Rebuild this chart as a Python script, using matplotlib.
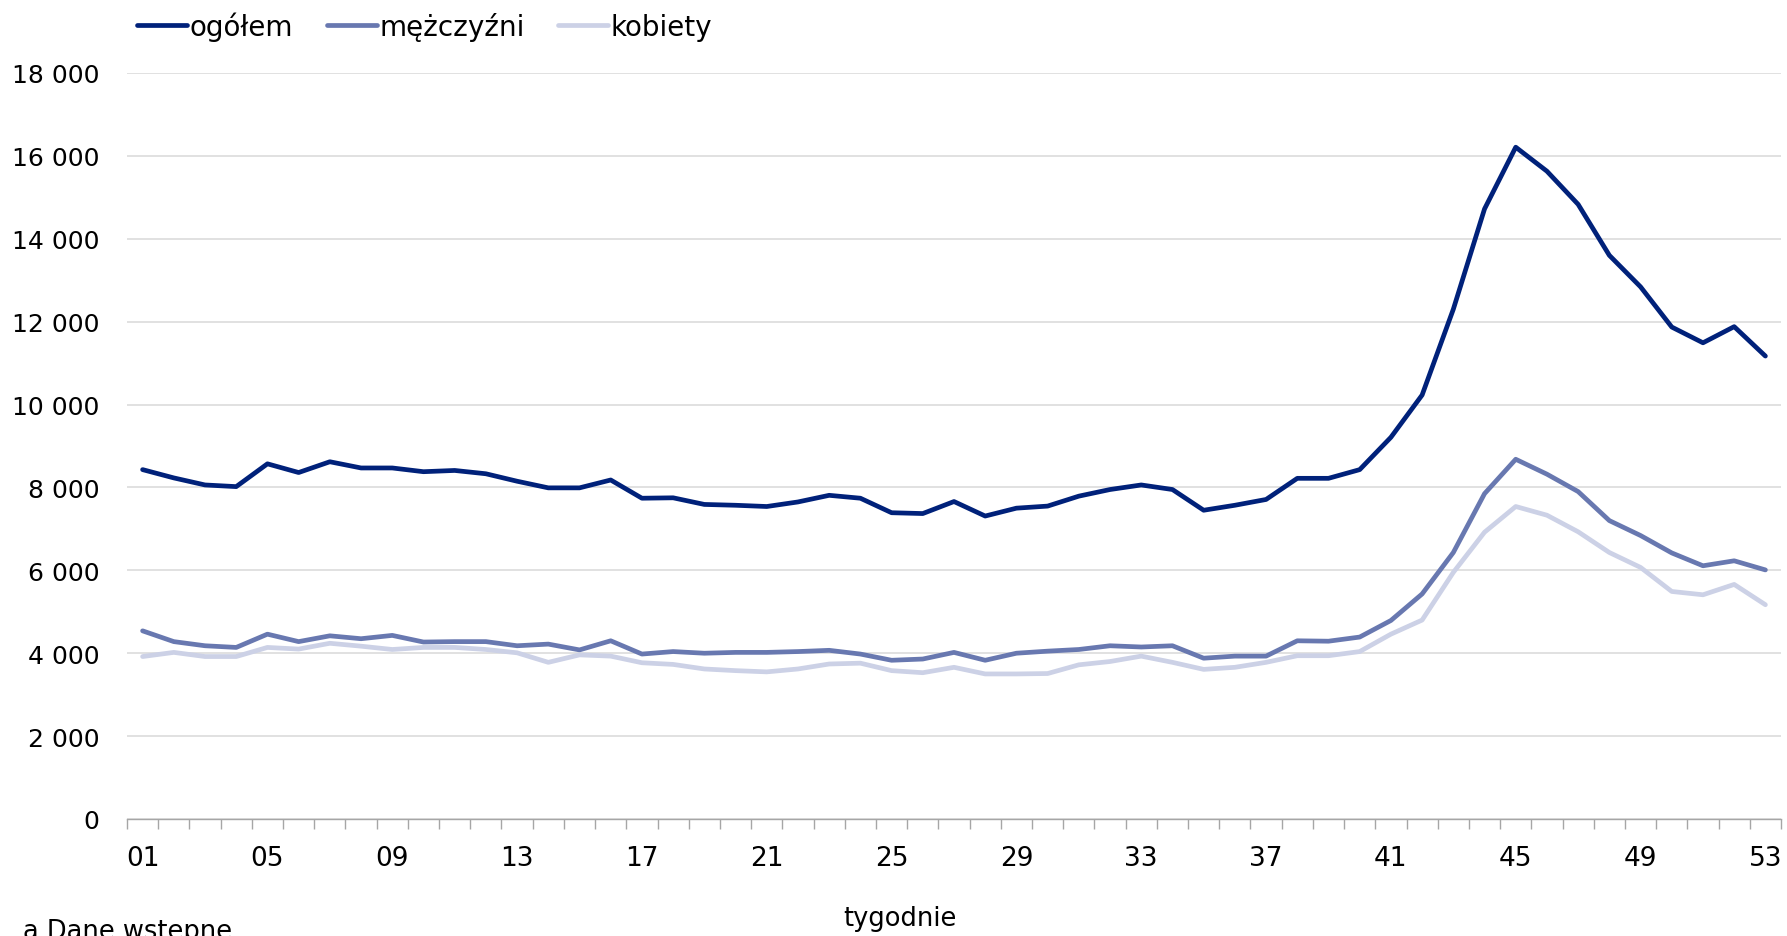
import numpy as np
import matplotlib
matplotlib.use("Agg")
import matplotlib.pyplot as plt
from matplotlib.ticker import FuncFormatter, FixedLocator

plt.rcParams['font.family'] = ['DejaVu Sans']

# ── Dane (tygodnie 01–53) ─────────────────────────────────────────────────────
tygodnie = np.arange(1, 54)
ogolem = [8430, 8230, 8060, 8020, 8570, 8360, 8620, 8470, 8470, 8380,
          8410, 8330, 8150, 7990, 7990, 8180, 7740, 7750, 7590, 7570,
          7540, 7650, 7810, 7740, 7390, 7370, 7660, 7310, 7500, 7550,
          7790, 7950, 8060, 7950, 7450, 7570, 7710, 8220, 8220, 8430,
          9210, 10230, 12300, 14720, 16210, 15630, 14830, 13600, 12840, 11870,
          11490, 11880, 11170]
mezczyzni = [4540, 4280, 4180, 4140, 4460, 4280, 4420, 4350, 4430, 4270,
             4280, 4280, 4180, 4220, 4080, 4300, 3980, 4040, 4000, 4020,
             4020, 4040, 4070, 3980, 3830, 3860, 4020, 3830, 4000, 4050,
             4090, 4180, 4150, 4180, 3880, 3930, 3930, 4300, 4290, 4390,
             4790, 5430, 6430, 7850, 8680, 8320, 7900, 7200, 6840, 6420,
             6110, 6230, 6010]
kobiety = [3920, 4020, 3920, 3920, 4140, 4100, 4240, 4170, 4090, 4140,
           4140, 4090, 4010, 3780, 3960, 3930, 3770, 3730, 3620, 3580,
           3550, 3620, 3740, 3760, 3580, 3530, 3660, 3500, 3500, 3510,
           3720, 3800, 3930, 3780, 3610, 3660, 3780, 3940, 3940, 4040,
           4460, 4800, 5950, 6920, 7540, 7330, 6930, 6430, 6070, 5490,
           5410, 5660, 5170]
etykiety_x = [f"{t:02d}" for t in range(1, 54, 4)]

W, H = 1787, 937
fig = plt.figure(figsize=(W / 100, H / 100), dpi=100)
ax = fig.add_axes([127 / W, 1 - 820 / H, (1781 - 127) / W, (820 - 74) / H])

ax.plot(tygodnie, ogolem, color='#00217a', lw=3.4, label='ogółem', solid_capstyle='round')
ax.plot(tygodnie, mezczyzni, color='#6878b0', lw=3.4, label='mężczyźni', solid_capstyle='round')
ax.plot(tygodnie, kobiety, color='#ccd1e6', lw=3.4, label='kobiety', solid_capstyle='round')

ax.set_xlim(0.5, 53.5)
ax.set_ylim(0, 18000)

# oś Y
ax.set_yticks(np.arange(0, 18001, 2000))
ax.yaxis.set_major_formatter(FuncFormatter(lambda v, p: f"{int(v):,}".replace(',', ' ')))
ax.tick_params(axis='y', length=0, pad=20, labelsize=18)
ax.grid(axis='y', color='#d9d9d9', lw=1.1)
ax.set_axisbelow(True)

# oś X
ax.set_xticks(list(range(1, 54, 4)))
ax.set_xticklabels(etykiety_x)
ax.xaxis.set_minor_locator(FixedLocator(np.arange(0.5, 54, 1)))
ax.tick_params(axis='x', which='major', length=0, pad=19, labelsize=19)
ax.tick_params(axis='x', which='minor', length=7, width=1, color='#a6a6a6')

for s in ['top', 'right', 'left']:
    ax.spines[s].set_visible(False)
ax.spines['bottom'].set_color('#a6a6a6')
ax.spines['bottom'].set_linewidth(1)

fig.legend(loc='center left', bbox_to_anchor=(137 / W, 1 - 27 / H), ncol=3,
           frameon=False, borderpad=0, borderaxespad=0, fontsize=20,
           handlelength=1.8, handletextpad=0.1, columnspacing=1.2)

fig.text(900 / W, 1 - 926 / H, 'tygodnie', ha='center', va='baseline', fontsize=18.5)
fig.text(23 / W, 1 - 939 / H, 'a Dane wstepne.', ha='left', va='baseline', fontsize=18.5)

fig.savefig('out.png', dpi=100)
